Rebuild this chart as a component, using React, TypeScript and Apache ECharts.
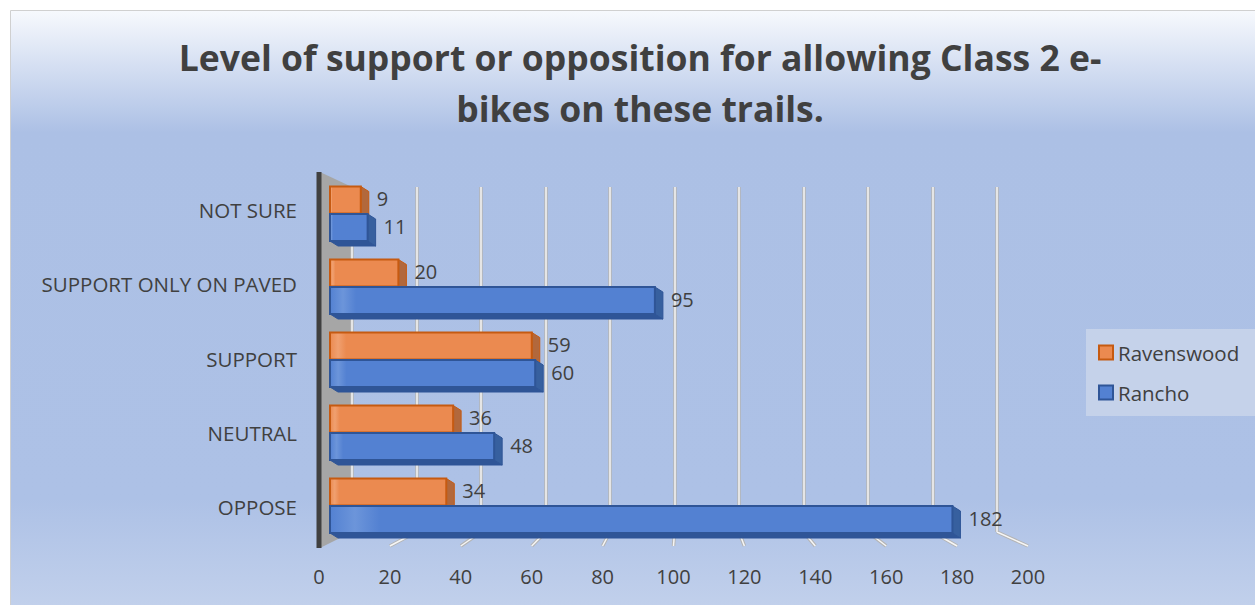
import React, { useEffect, useRef } from "react";
import * as echarts from "echarts";

const categories = ["OPPOSE", "NEUTRAL", "SUPPORT", "SUPPORT ONLY ON PAVED", "NOT SURE"];
const ravenswood = [34, 36, 59, 20, 9];
const rancho = [182, 48, 60, 95, 11];
const tickValues = [0, 20, 40, 60, 80, 100, 120, 140, 160, 180, 200];
const titleText = "Level of support or opposition for allowing Class 2 e-\nbikes on these trails.";

const FONT = "Open Sans";
const TEXT = "#404040";

const palette = [
  { front: "#EB8A50", light: "#F0A070", border: "#C65A11", side: "#B2683C", bottom: "#C0622A" },
  { front: "#5381D2", light: "#6C95DA", border: "#2F5597", side: "#37609F", bottom: "#2F5597" },
];

function makeRender(seriesIdx: number) {
  return (params: any, api: any) => {
    const cat = api.value(0);
    const val = api.value(1);
    const center = api.coord([0, cat]);
    const end = api.coord([val, cat]);
    const band = api.size([0, 1])[1];
    const h = band * 0.37;
    const x0 = center[0];
    const x1 = end[0];
    const y0 = seriesIdx === 0 ? center[1] - h : center[1] + 0.5;
    const y1 = y0 + h;
    const dx = 8, dy = 5;
    const c = palette[seriesIdx];
    return {
      type: "group",
      children: [
        {
          type: "polygon",
          shape: { points: [[x0, y1], [x1, y1], [x1 + dx, y1 + dy], [x0 + dx, y1 + dy]] },
          style: { fill: c.bottom, stroke: c.border, lineWidth: 1 },
        },
        {
          type: "polygon",
          shape: { points: [[x1, y0], [x1 + dx, y0 + dy], [x1 + dx, y1 + dy], [x1, y1]] },
          style: { fill: c.side, stroke: c.border, lineWidth: 1 },
        },
        {
          type: "rect",
          shape: { x: x0, y: y0, width: x1 - x0, height: h },
          style: {
            fill: new echarts.graphic.LinearGradient(0, 0, 1, 0, [
              { offset: 0, color: c.front },
              { offset: 0.04, color: c.light },
              { offset: 0.08, color: c.front },
              { offset: 1, color: c.front },
            ]),
            stroke: c.border, lineWidth: 2,
          },
        },
        {
          type: "text",
          x: x1 + 16, y: (y0 + y1) / 2 - 1,
          style: {
            text: String(val), fontSize: 20, fontFamily: FONT, fill: TEXT,
            textAlign: "left", textVerticalAlign: "middle",
          },
        },
      ],
    };
  };
}

export default function App() {
  const ref = useRef<HTMLDivElement>(null);
  useEffect(() => {
    if (!ref.current) return;
    const chart = echarts.init(ref.current, undefined, { renderer: "svg" });
    const catData = (vals: number[]) => vals.map((v, i) => [i, v]);
    const gridLine = (color: string, width: number) => ({
      show: true, lineStyle: { color, width },
    });
    const hiddenValue = (gridIndex: number) => ({
      gridIndex, type: "value", min: 0, max: 200, show: false,
    });
    const option: any = {
      animation: false,
      textStyle: { fontFamily: FONT },
      grid: [
        { left: 330, width: 684, top: 177, height: 365 },
        { left: 319, width: 709, top: 177, height: 383 },
        { left: 352, width: 645, top: 187, height: 345 },
        { left: 352, width: 645, top: 187, height: 345 },
        { left: 330, width: 684, top: 173, height: 371 },
      ],
      xAxis: [
        hiddenValue(0),
        {
          gridIndex: 1, type: "value", min: 0, max: 200, interval: 20,
          axisLine: { show: false }, axisTick: { show: false }, splitLine: { show: false },
          axisLabel: { fontSize: 20, color: TEXT, fontFamily: FONT, margin: 6 },
        },
        {
          gridIndex: 2, type: "value", min: 0, max: 200, interval: 20,
          axisLine: { show: false }, axisTick: { show: false }, axisLabel: { show: false },
          splitLine: gridLine("#B4B4B4", 3.5),
        },
        {
          gridIndex: 3, type: "value", min: 0, max: 200, interval: 20,
          axisLine: { show: false }, axisTick: { show: false }, axisLabel: { show: false },
          splitLine: gridLine("#F6F6F6", 1.5),
        },
        hiddenValue(4),
      ],
      yAxis: [
        { gridIndex: 0, type: "category", data: categories, show: false },
        { gridIndex: 1, type: "category", data: categories, show: false },
        { gridIndex: 2, type: "category", data: categories, show: false },
        { gridIndex: 3, type: "category", data: categories, show: false },
        {
          gridIndex: 4, type: "category", data: categories,
          axisLine: { show: false }, axisTick: { show: false }, splitLine: { show: false },
          axisLabel: { fontSize: 20.5, color: TEXT, fontFamily: FONT, margin: 33 },
        },
      ],
      legend: {
        orient: "vertical", left: 1086, top: 329, width: 140,
        backgroundColor: "#C5D2EA",
        padding: [13, 40, 13, 12], itemGap: 19,
        icon: "rect", itemWidth: 14, itemHeight: 14,
        textStyle: { fontSize: 20.5, color: TEXT, fontFamily: FONT },
        data: [
          { name: "Ravenswood", itemStyle: { color: palette[0].front, borderColor: palette[0].border, borderWidth: 2 } },
          { name: "Rancho", itemStyle: { color: palette[1].front, borderColor: palette[1].border, borderWidth: 2 } },
        ],
      },
      series: [
        {
          name: "Ravenswood", type: "custom", xAxisIndex: 0, yAxisIndex: 0,
          data: catData(ravenswood), encode: { x: 1, y: 0 }, z: 3,
          itemStyle: { color: palette[0].front },
          renderItem: makeRender(0),
        },
        {
          name: "Rancho", type: "custom", xAxisIndex: 0, yAxisIndex: 0,
          data: catData(rancho), encode: { x: 1, y: 0 }, z: 4,
          itemStyle: { color: palette[1].front },
          renderItem: makeRender(1),
        },
      ],
      graphic: [
        {
          type: "rect", z: -100, silent: true,
          shape: { x: 10.5, y: 10.5, width: 1260, height: 610 },
          style: {
            fill: new echarts.graphic.LinearGradient(0, 0, 0, 1, [
              { offset: 0, color: "#F7F9FD" },
              { offset: 0.2, color: "#ACC0E5" },
              { offset: 0.8, color: "#ADC1E6" },
              { offset: 1, color: "#C4D2EC" },
            ]),
            stroke: "#D0D0D0", lineWidth: 1,
          },
        },
        {
          type: "text", x: 640, y: 82, z: 10,
          style: {
            text: titleText, fontSize: 35.5, fontWeight: "bold", fontFamily: FONT,
            fill: TEXT, textAlign: "center", textVerticalAlign: "middle", lineHeight: 51,
          },
        },
      ],
    };
    chart.setOption(option);

    // decorative 3D wall / floor lines derived from the axes
    const extra: any[] = [];
    const backBottom = 532, frontBottom = 546, backTop = 187, frontTop = 172;
    const back0 = chart.convertToPixel({ xAxisIndex: 2 }, 0) as number;
    const front0 = chart.convertToPixel({ xAxisIndex: 1 }, 0) as number;
    extra.push({
      type: "polygon", z: 0, silent: true,
      shape: { points: [[front0 + 1, frontTop], [back0, backTop], [back0, backBottom], [front0 + 1, frontBottom + 2]] },
      style: { fill: "#A6A6A6" },
    });
    extra.push({
      type: "line", z: 1, silent: true,
      shape: { x1: front0, y1: frontTop, x2: front0, y2: frontBottom + 2 },
      style: { stroke: "#404040", lineWidth: 5 },
    });
    tickValues.forEach((v) => {
      if (v === 0) return;
      const bx = chart.convertToPixel({ xAxisIndex: 2 }, v) as number;
      const fx = chart.convertToPixel({ xAxisIndex: 1 }, v) as number;
      extra.push({
        type: "line", z: 0, silent: true,
        shape: { x1: bx, y1: backBottom, x2: fx, y2: frontBottom },
        style: { stroke: "#B4B4B4", lineWidth: 3.5 },
      });
      extra.push({
        type: "line", z: 0, silent: true,
        shape: { x1: bx, y1: backBottom, x2: fx, y2: frontBottom },
        style: { stroke: "#F6F6F6", lineWidth: 1.5 },
      });
    });
    chart.setOption({ graphic: [...option.graphic, ...extra] });
    return () => chart.dispose();
  }, []);
  return (
    <div
      ref={ref}
      style={{ position: "absolute", left: 0, top: 0, width: 1255, height: 605 }}
    />
  );
}
